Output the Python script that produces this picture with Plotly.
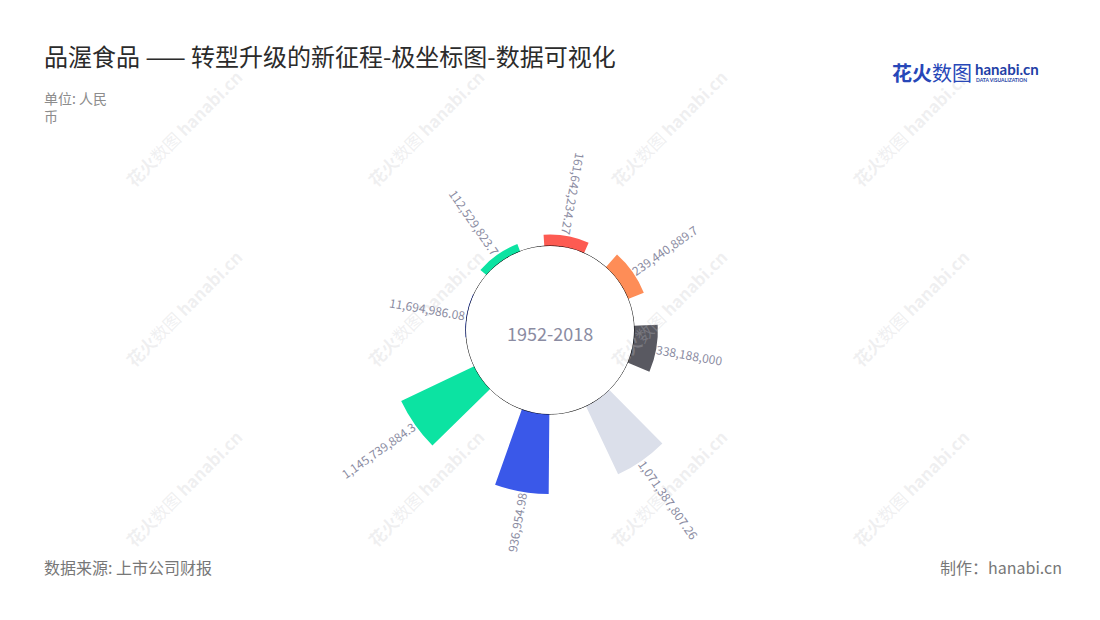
import math
import plotly.graph_objects as go

# ---------------- data ----------------
positions = ["1", "2", "3", "4", "5", "6", "7", "8"]
values = [161642234.27, 239440889.7, 338188000, 1071387807.26,
          1135000000, 1145739884.3, 11694986.08, 112529823.7]
value_labels = ["161,642,234.27", "239,440,889.7", "338,188,000", "1,071,387,807.26",
                "936,954.98", "1,145,739,884.3", "11,694,986.08", "112,529,823.7"]
colors = ["#fd5b52", "#fe8d57", "#595961", "#dbdfea",
          "#3a58e9", "#0ce3a2", "#3a58e9", "#0ce3a2"]
center_text = "1952-2018"

# ---------------- geometry / style ----------------
W, H = 1100, 620
OFF = 8                    # page body margin compensation
CX, CY = 550 - OFF, 330 - OFF   # polar centre (px, figure coords)
R_OUT = 168                # outer radius (px)
HOLE = 0.5                 # hole fraction -> 84 px
R_HOLE = R_OUT * HOLE
RMAX = 1.19e9
ROT = 10                   # first category angle, clockwise from north
STEP = 360 / len(values)
BAR_PX = 44                # bar thickness in px


def PX(x):
    return (x - OFF) / W


def PY(y):
    return 1 - (y - OFF) / H


thetas = [i * STEP for i in range(len(values))]
bar_len_px = [R_HOLE * v / RMAX for v in values]
widths = [math.degrees(BAR_PX / (R_HOLE + L * 0.6)) for L in bar_len_px]

fig = go.Figure()
fig.add_trace(go.Barpolar(
    r=values, theta=thetas, width=widths,
    marker=dict(color=colors, line=dict(width=0)),
    hoverinfo="skip", showlegend=False,
))
# circle at the hole edge
circ_t = list(range(0, 361))
fig.add_trace(go.Scatterpolar(
    r=[0] * len(circ_t), theta=circ_t, mode="lines",
    line=dict(color="#000000", width=1), hoverinfo="skip", showlegend=False,
))

fig.update_layout(
    width=W, height=H, margin=dict(l=0, r=0, t=0, b=0),
    paper_bgcolor="white", plot_bgcolor="white",
    font=dict(family="Noto Sans CJK SC, Noto Sans, sans-serif"),
    polar=dict(
        domain=dict(x=[(CX - R_OUT) / W, (CX + R_OUT) / W],
                    y=[(H - CY - R_OUT) / H, (H - CY + R_OUT) / H]),
        hole=HOLE,
        bgcolor="rgba(0,0,0,0)",
        radialaxis=dict(range=[0, RMAX], visible=False, showgrid=False),
        angularaxis=dict(type="linear", thetaunit="degrees", rotation=90 - ROT,
                         direction="clockwise", visible=False, showgrid=False,
                         showline=False, ticks=""),
    ),
)

annotations = []

# watermarks
wm_x = [183, 425, 668, 910]
wm_y = [128, 308, 488]
for wx in wm_x:
    for wy in wm_y:
        annotations.append(dict(
            x=PX(wx), y=PY(wy), xref="paper", yref="paper",
            text="<b>花火</b>数图 <b>hanabi.cn</b>", showarrow=False, textangle=-45,
            font=dict(size=17, color="rgba(200,200,205,0.28)"),
            xanchor="center", yanchor="middle"))


# value labels, rotated along the radius
def text_width(s, size=12):
    w = 0
    for ch in s:
        w += 0.27 * size if ch in ",." else 0.555 * size
    return w


for th, v, lab in zip(thetas, values, value_labels):
    ang = th + ROT
    r_end = R_HOLE + R_HOLE * v / RMAX + 1
    tw = text_width(lab)
    rc = r_end + tw / 2
    px = CX + rc * math.sin(math.radians(ang))
    py = CY - rc * math.cos(math.radians(ang))
    if 30 <= ang < 180:
        ta = ang - 90
    else:
        ta = (ang + 90) % 360
        if ta > 180:
            ta -= 360
    annotations.append(dict(
        x=px / W, y=1 - py / H, xref="paper", yref="paper",
        text=lab, showarrow=False, textangle=ta,
        font=dict(size=12, color="#8b8ca2"),
        xanchor="center", yanchor="middle"))

# centre text
annotations.append(dict(x=CX / W, y=1 - (CY + 3) / H, xref="paper", yref="paper",
                        text=center_text, showarrow=False,
                        font=dict(size=18, color="#8b8ca2"),
                        xanchor="center", yanchor="middle"))

# title, subtitle, footer
annotations += [
    dict(x=PX(42), y=PY(55), xref="paper", yref="paper",
         text="品渥食品 —— 转型升级的新征程-极坐标图-数据可视化", showarrow=False,
         font=dict(size=24, color="#2b2b2b"), xanchor="left", yanchor="middle"),
    dict(x=PX(42), y=PY(86), xref="paper", yref="paper",
         text="单位: 人民<br>币", showarrow=False, align="left",
         font=dict(size=14, color="#8c8c8c"), xanchor="left", yanchor="top"),
    dict(x=PX(42), y=PY(567), xref="paper", yref="paper",
         text="数据来源: 上市公司财报", showarrow=False,
         font=dict(size=16, color="#777777"), xanchor="left", yanchor="middle"),
    dict(x=PX(1064), y=PY(567), xref="paper", yref="paper",
         text="制作：hanabi.cn", showarrow=False,
         font=dict(size=16, color="#777777"), xanchor="right", yanchor="middle"),
    # logo
    dict(x=PX(890), y=PY(72), xref="paper", yref="paper",
         text="<b>花火</b>数图", showarrow=False,
         font=dict(size=20, color="#2747b8"), xanchor="left", yanchor="middle"),
    dict(x=PX(973), y=PY(69), xref="paper", yref="paper",
         text="<b>hanabi.cn</b>", showarrow=False,
         font=dict(size=15, color="#1f3fa6", family="Lato, sans-serif"),
         xanchor="left", yanchor="middle"),
    dict(x=PX(974), y=PY(80), xref="paper", yref="paper",
         text="<b>DATA VISUALIZATION</b>", showarrow=False,
         font=dict(size=5, color="#1f3fa6", family="Lato, sans-serif"),
         xanchor="left", yanchor="middle"),
]

fig.update_layout(annotations=annotations)
fig.write_html("out.html")
